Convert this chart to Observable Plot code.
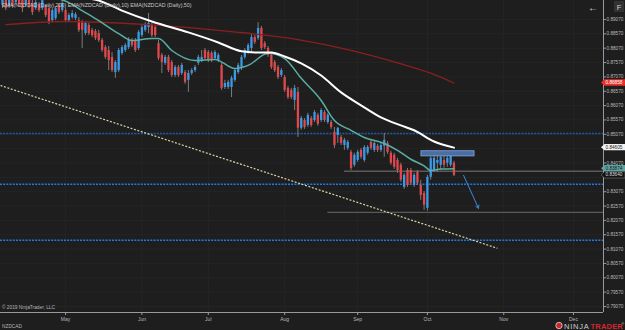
<!DOCTYPE html>
<html><head><meta charset="utf-8">
<script src="https://cdn.jsdelivr.net/npm/d3@7"></script>
<script src="https://cdn.jsdelivr.net/npm/@observablehq/plot@0.6"></script>
<style>
html,body{margin:0;padding:0;background:#1e1e1e;}
#chart{width:625px;height:330px;overflow:hidden;}
</style></head><body><div id="chart"></div>
<script>
// ---- data (daily NZDCAD bars, bar index 0 = 1 May 2019) ----
const firstBar = -19;
const open = [0.8956,0.8980,0.8952,0.8983,0.8966,0.8987,0.8973,0.8956,0.8976,0.8963,0.8945,0.8959,0.8945,0.8949,0.8945,0.8903,0.8910,0.8956,0.8938,
0.8938,0.8903,0.8914,0.8910,0.8903,0.8896,0.8858,0.8886,0.8869,0.8865,0.8858,0.8834,0.8809,0.8799,0.8775,0.8722,0.8729,0.8789,0.8799,0.8809,
0.8834,0.8834,0.8806,0.8851,0.8869,0.8879,0.8886,0.8879,0.8823,0.8782,0.8754,0.8775,0.8757,0.8712,0.8740,0.8719,0.8722,0.8695,0.8719,0.8729,
0.8754,0.8764,0.8799,0.8792,0.8789,0.8771,0.8764,0.8747,0.8670,0.8670,0.8670,0.8695,0.8722,0.8736,0.8775,0.8792,0.8806,0.8844,0.8841,0.8876,
0.8823,0.8806,0.8782,0.8757,0.8740,0.8712,0.8705,0.8667,0.8660,0.8625,0.8653,0.8528,0.8555,0.8538,0.8562,0.8555,0.8573,0.8555,0.8583,0.8548,
0.8548,0.8514,0.8503,0.8496,0.8468,0.8458,0.8444,0.8399,0.8416,0.8451,0.8416,0.8441,0.8479,0.8451,0.8465,0.8451,0.8465,0.8475,0.8441,0.8434,
0.8416,0.8399,0.8322,0.8381,0.8381,0.8329,0.8374,0.8329,0.8301,0.8249,0.8357,0.8381,0.8406,0.8399,0.8416,0.8406,0.8399,0.8406];
const high = [0.9008,0.8994,0.8983,0.8990,0.9008,0.8994,0.8983,0.8987,0.8983,0.8973,0.8973,0.8966,0.8987,0.8956,0.8956,0.8945,0.8952,0.8963,0.8973,
0.8945,0.8928,0.8938,0.8931,0.8914,0.8903,0.8900,0.8893,0.8876,0.8872,0.8869,0.8841,0.8816,0.8813,0.8792,0.8764,0.8806,0.8816,0.8823,0.8844,
0.8841,0.8841,0.8869,0.8886,0.8896,0.8928,0.8893,0.8886,0.8834,0.8789,0.8782,0.8782,0.8764,0.8747,0.8747,0.8754,0.8729,0.8729,0.8736,0.8747,
0.8782,0.8799,0.8806,0.8799,0.8796,0.8799,0.8789,0.8754,0.8695,0.8695,0.8709,0.8736,0.8754,0.8782,0.8806,0.8823,0.8858,0.8851,0.8896,0.8883,
0.8830,0.8813,0.8789,0.8764,0.8747,0.8736,0.8712,0.8674,0.8667,0.8677,0.8670,0.8569,0.8562,0.8580,0.8569,0.8590,0.8580,0.8597,0.8590,0.8580,
0.8555,0.8531,0.8531,0.8503,0.8493,0.8486,0.8451,0.8441,0.8451,0.8458,0.8468,0.8468,0.8486,0.8482,0.8472,0.8475,0.8510,0.8482,0.8448,0.8441,
0.8423,0.8406,0.8371,0.8388,0.8388,0.8371,0.8381,0.8347,0.8308,0.8364,0.8434,0.8434,0.8437,0.8441,0.8437,0.8441,0.8444,0.8413];
const low = [0.8945,0.8938,0.8945,0.8945,0.8959,0.8952,0.8931,0.8949,0.8945,0.8921,0.8938,0.8931,0.8938,0.8914,0.8889,0.8896,0.8903,0.8924,0.8931,
0.8896,0.8896,0.8907,0.8903,0.8862,0.8806,0.8851,0.8851,0.8844,0.8834,0.8827,0.8792,0.8768,0.8729,0.8722,0.8702,0.8722,0.8782,0.8792,0.8802,
0.8809,0.8792,0.8799,0.8844,0.8862,0.8858,0.8844,0.8844,0.8764,0.8719,0.8747,0.8722,0.8705,0.8705,0.8705,0.8712,0.8681,0.8653,0.8712,0.8722,
0.8747,0.8757,0.8764,0.8757,0.8757,0.8764,0.8757,0.8660,0.8663,0.8663,0.8635,0.8688,0.8715,0.8729,0.8768,0.8785,0.8789,0.8820,0.8834,0.8799,
0.8802,0.8775,0.8733,0.8722,0.8698,0.8705,0.8653,0.8628,0.8628,0.8590,0.8496,0.8521,0.8524,0.8531,0.8531,0.8548,0.8535,0.8548,0.8548,0.8542,
0.8524,0.8458,0.8475,0.8468,0.8451,0.8451,0.8381,0.8392,0.8409,0.8420,0.8409,0.8434,0.8451,0.8444,0.8444,0.8444,0.8427,0.8437,0.8399,0.8385,
0.8371,0.8340,0.8315,0.8322,0.8329,0.8322,0.8329,0.8277,0.8242,0.8239,0.8347,0.8374,0.8374,0.8381,0.8388,0.8392,0.8392,0.8360];
const close = [0.8990,0.8945,0.8973,0.8952,0.8994,0.8959,0.8945,0.8980,0.8952,0.8931,0.8966,0.8938,0.8973,0.8921,0.8896,0.8938,0.8945,0.8931,0.8963,
0.8903,0.8921,0.8928,0.8924,0.8869,0.8869,0.8893,0.8858,0.8851,0.8841,0.8834,0.8799,0.8775,0.8764,0.8729,0.8757,0.8799,0.8809,0.8816,0.8837,
0.8816,0.8799,0.8862,0.8879,0.8889,0.8893,0.8851,0.8851,0.8771,0.8757,0.8775,0.8729,0.8712,0.8740,0.8712,0.8747,0.8688,0.8719,0.8729,0.8740,
0.8775,0.8775,0.8771,0.8764,0.8764,0.8792,0.8782,0.8667,0.8684,0.8688,0.8702,0.8729,0.8747,0.8775,0.8799,0.8816,0.8844,0.8827,0.8876,0.8806,
0.8809,0.8782,0.8740,0.8729,0.8705,0.8729,0.8660,0.8635,0.8635,0.8667,0.8528,0.8562,0.8531,0.8573,0.8538,0.8583,0.8542,0.8590,0.8555,0.8573,
0.8531,0.8468,0.8528,0.8475,0.8486,0.8479,0.8388,0.8434,0.8444,0.8427,0.8461,0.8461,0.8458,0.8475,0.8451,0.8468,0.8486,0.8444,0.8406,0.8392,
0.8381,0.8347,0.8364,0.8329,0.8336,0.8364,0.8336,0.8294,0.8260,0.8357,0.8423,0.8423,0.8416,0.8427,0.8399,0.8423,0.8441,0.83640];

// EMA readings (bar index, price)
const ema200Bar = [-18, 0, 25, 50, 70, 85, 100, 110, 117];
const ema200Val = [0.8889, 0.8900, 0.8889, 0.8865, 0.8837, 0.8802, 0.8756, 0.8720, 0.86858];
const ema50Bar = [-19,-10,0,6,10,17,26,37,46,53,57,62,66,71,77,83,89,95,101,105,111,117];
const ema50Val = [0.9060,0.9032,0.9008,0.8983,0.8973,0.8938,0.8900,0.8862,0.8827,0.8796,0.8792,0.8792,0.8778,0.8754,0.8712,0.8653,0.8608,0.8566,0.8538,0.8521,0.8482,0.84605];
const ema10Bar = [-19,-10,-3,1,5,10,16,20,26,28,32,39,45,51,55,61,66,71,77,81,86,90,96,100,104,108,110,113,117];
const ema10Val = [0.9025,0.9008,0.8983,0.8966,0.8938,0.8903,0.8858,0.8834,0.8841,0.8841,0.8799,0.8764,0.8768,0.8736,0.8747,0.8789,0.8771,0.8702,0.8625,0.8555,0.8521,0.8496,0.8475,0.8451,0.8420,0.8397,0.8381,0.8386,0.83874];

// drawings
const blueLevels = [0.8510, 0.8333, 0.8138];
const blueLevelColors = ["#1d5aa8", "#1f7ae6", "#1f7ae6"];
const grayLevels = [0.8378, 0.8235];
const grayLevelStart = [84, 79];
const trendBar = [-19.6, 130.1];
const trendVal = [0.8677, 0.8110];
const zoneBar = [107.2, 123.2];
const zoneVal = [0.8430, 0.8448];
const arrowBar = [119.9, 124.4];
const arrowVal = [0.8364, 0.8249];

// axes
const yTicks = [0.7907,0.7957,0.8007,0.8057,0.8107,0.8157,0.8207,0.8257,0.8307,0.8357,0.8407,0.8457,0.8507,0.8557,0.8607,0.8657,0.8707,0.8757,0.8807,0.8857,0.8907];
const monthTicks = [0, 23, 43, 66, 88, 109, 132, 153];
const monthLabels = ["May","Jun","Jul","Aug","Sep","Oct","Nov","Dec"];
const priceTags = [
  {v: ema200Val[ema200Val.length - 1], bg: "#e8302a", fg: "#ffffff", border: "none"},
  {v: ema50Val[ema50Val.length - 1], bg: "#f2f2f2", fg: "#222222", border: "none"},
  {v: ema10Val[ema10Val.length - 1], bg: "#5aa6a2", fg: "#1a1a1a", border: "none"},
  {v: close[close.length - 1], bg: "#141414", fg: "#dddddd", border: "#777777"}
];
// tick labels hidden behind a price tag are not drawn
const visibleTicks = yTicks.filter(t => priceTags.every(p => Math.abs(p.v - t) > 0.0011));

// ---- build ----
const candles = open.map((o, k) => ({i: firstBar + k, o, h: high[k], l: low[k], c: close[k]}));
const pts = (b, v) => b.map((x, k) => ({x, y: v[k]}));
const xDomain = [-19.6, 162.05];
const yDomain = [0.78861, 0.89732];

const plot = Plot.plot({
  width: 625, height: 330,
  marginTop: 0, marginLeft: 0, marginRight: 22, marginBottom: 18,
  style: {background: "#1e1e1e", color: "#b5b5b5", fontFamily: "'Liberation Sans', Arial, sans-serif", fontSize: "5px"},
  x: {domain: xDomain, axis: null},
  y: {domain: yDomain, axis: null},
  color: {type: "identity"},
  marks: [
    Plot.ruleY(yTicks, {stroke: "#252525"}),
    Plot.ruleX(monthTicks, {stroke: "#252525"}),
    Plot.ruleY(blueLevels, {x1: xDomain[0], x2: xDomain[1], stroke: (d, k) => blueLevelColors[k], strokeWidth: 1.5, strokeDasharray: "2,1.2"}),
    Plot.ruleY(grayLevels, {x1: (d, k) => grayLevelStart[k], x2: xDomain[1], stroke: "#5a5a5a", strokeWidth: 1.4}),
    Plot.link([0], {x1: () => trendBar[0], y1: () => trendVal[0], x2: () => trendBar[1], y2: () => trendVal[1], stroke: "#ddd3a6", strokeWidth: 1.2, strokeDasharray: "2,1.6"}),
    Plot.ruleX(candles, {x: "i", y1: "l", y2: "h", stroke: "#7c7c7c", strokeWidth: 1}),
    Plot.ruleX(candles, {x: "i", y1: "o", y2: "c", stroke: d => d.c >= d.o ? "#3a9ae8" : "#e4474b", strokeWidth: 2.3}),
    Plot.line(pts(ema200Bar, ema200Val), {x: "x", y: "y", stroke: "#8a1f1f", strokeWidth: 1.3, curve: "monotone-x"}),
    Plot.line(pts(ema10Bar, ema10Val), {x: "x", y: "y", stroke: "#5aaea2", strokeWidth: 1.5, curve: "monotone-x"}),
    Plot.line(pts(ema50Bar, ema50Val), {x: "x", y: "y", stroke: "#ffffff", strokeWidth: 2, curve: "monotone-x"}),
    Plot.rect([0], {x1: () => zoneBar[0], x2: () => zoneBar[1], y1: () => zoneVal[0], y2: () => zoneVal[1], fill: "#4a6ea6", stroke: "#86a6d8", strokeWidth: 0.8}),
    Plot.arrow([0], {x1: () => arrowBar[0], y1: () => arrowVal[0], x2: () => arrowBar[1], y2: () => arrowVal[1], stroke: "#3b8ad8", strokeWidth: 1, headLength: 5, bend: 0}),
    Plot.ruleX([xDomain[1]], {stroke: "#9a9a9a"}),
    Plot.ruleY([yDomain[0]], {stroke: "#9a9a9a"}),
    Plot.axisY({ticks: visibleTicks, anchor: "right", tickSize: 2, tickPadding: 1, tickFormat: d => d.toFixed(5), fontSize: 4.7, stroke: "#9a9a9a", fill: "#b8b8b8"}),
    Plot.axisX({ticks: monthTicks, anchor: "bottom", tickSize: 3, tickPadding: 1.5, tickFormat: d => monthLabels[monthTicks.indexOf(d)], fontSize: 5, stroke: "#9a9a9a", fill: "#b8b8b8"})
  ]
});

document.getElementById("chart").appendChild(plot);

// price tags on right axis
const ys = plot.scale("y");
const svg = d3.select(plot);
const g = svg.append("g").attr("text-anchor", "start");
priceTags.forEach(t => {
  const yc = ys.apply(t.v);
  g.append("path")
    .attr("d", `M601,${yc} L604.5,${yc - 3.2} L625,${yc - 3.2} L625,${yc + 3.2} L604.5,${yc + 3.2} Z`)
    .attr("fill", t.bg).attr("stroke", t.border).attr("stroke-width", 0.6);
  g.append("text").attr("x", 605.5).attr("y", yc).attr("dy", "0.35em")
    .attr("font-size", 4.7).attr("fill", t.fg).text(t.v.toFixed(5));
});

// header / footer texts
const txt = (x, y, s, size, fill, extra = {}) => {
  const e = svg.append("text").attr("x", x).attr("y", y).attr("font-size", size).attr("fill", fill)
    .attr("text-anchor", "start").text(s);
  Object.entries(extra).forEach(([k, v]) => e.attr(k, v));
  return e;
};
txt(2, 7, "EMA(NZDCAD (Daily),200) EMA(NZDCAD (Daily),10) EMA(NZDCAD (Daily),50)", 5.3, "#c8c8c8");
txt(2, 309, "© 2019 NinjaTrader, LLC", 4.8, "#b5b5b5");
txt(2, 328, "NZDCAD", 4.8, "#b5b5b5");
txt(588, 11, "←", 10, "#e0e0e0");
svg.append("rect").attr("x", 614).attr("y", 1).attr("width", 10).attr("height", 11).attr("fill", "#333");
txt(619, 10, "F", 7.5, "#cfcfcf", {"text-anchor": "middle"});
// logo
svg.append("circle").attr("cx", 559).attr("cy", 325.5).attr("r", 3.2).attr("fill", "#c9252b").attr("stroke", "#d8d8d8").attr("stroke-width", 0.8);
txt(564, 329, "NINJA", 7.5, "#d0d0d0", {"font-weight": "300", "letter-spacing": "0.8"});
txt(590.5, 329, "TRADER", 7.5, "#d9262c", {"font-weight": "bold", "letter-spacing": "0.2"});
txt(621.5, 324.5, "®", 3.5, "#cfcfcf");
</script>
</body></html>
